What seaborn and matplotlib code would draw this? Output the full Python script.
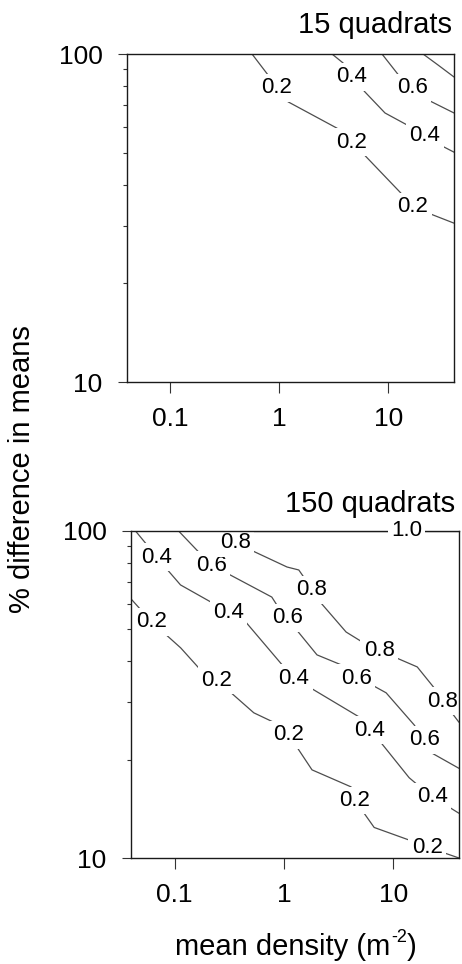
import matplotlib
matplotlib.use("Agg")
import matplotlib.pyplot as plt
import seaborn as sns
import pandas as pd
from matplotlib.ticker import FixedLocator, FixedFormatter, NullLocator, NullFormatter

# ---------------- data ----------------
x_ticks = [0.1, 1, 10]
x_tick_labels = ["0.1", "1", "10"]
y_ticks = [10, 100]
y_tick_labels = ["10", "100"]
y_minor = [20, 30, 40, 50, 60, 70, 80, 90]

panel_titles = ["15 quadrats", "150 quadrats"]
x_label_main = "mean density (m"
x_label_sup = "-2"
x_label_end = ")"
y_label = "% difference in means"

# 15 quadrats: contour lines (x, y vertices) and vertices that carry labels
t02_x = [0.561, 0.787, 0.951, 1.20, 3.38, 4.64, 12.8, 16.8, 25.7, 40]
t02_y = [100, 86.3, 78.8, 71.5, 59.4, 53.9, 37.9, 34.2, 32.3, 30.5]
t02_lab = [2, 5, 7]
t04_x = [3.04, 3.84, 4.64, 6.10, 9.31, 14.8, 21.7, 29.8, 40]
t04_y = [100, 93.9, 85.1, 76.6, 66.1, 60.8, 56.6, 52.8, 50.2]
t04_lab = [2, 6]
t06_x = [8.74, 12.8, 16.5, 23.1, 40]
t06_y = [100, 85.1, 78.8, 72.4, 66.1]
t06_lab = [2]
t08_x = [20.8, 28.5, 40]
t08_y = [100, 92.6, 85.1]
t08_lab = []

# 150 quadrats
b02_x = [0.04, 0.062, 0.114, 0.173, 0.243, 0.531, 0.809, 1.11, 1.81, 4.12, 4.48, 6.70, 15.6, 20.5, 40]
b02_y = [62, 52.7, 43.9, 37.6, 35.0, 27.8, 26.0, 23.8, 18.6, 16.5, 15.0, 12.4, 11.2, 10.8, 10.0]
b02_lab = [1, 4, 7, 10, 13]
b04_x = [0.044, 0.0542, 0.0684, 0.1135, 0.214, 0.313, 0.448, 0.938, 1.24, 4.88, 6.03, 7.76, 14.0, 19.2, 22.8, 40]
b04_y = [100, 91.9, 83.2, 68.4, 60.7, 56.5, 52.7, 39.4, 35.5, 27.0, 24.6, 22.5, 17.6, 16.1, 15.4, 13.7]
b04_lab = [2, 5, 8, 10, 14]
b06_x = [0.109, 0.166, 0.218, 0.776, 0.863, 1.09, 1.31, 2.01, 3.94, 4.58, 6.41, 8.62, 15.6, 19.2, 22.8, 40]
b06_y = [100, 86.3, 78.7, 62.8, 59.4, 54.2, 49.8, 41.8, 38.1, 35.5, 33.8, 32.0, 25.5, 23.0, 20.9, 18.8]
b06_lab = [2, 5, 9, 13]
b08_x = [0.282, 0.363, 1.07, 1.37, 1.52, 1.81, 2.18, 3.71, 5.42, 7.45, 10.2, 16.6, 25.4, 28.5, 40]
b08_y = [100, 91.9, 77.6, 76.0, 72.3, 66.1, 60.3, 49.1, 45.4, 43.0, 41.2, 38.4, 32.2, 30.2, 26.0]
b08_lab = [1, 5, 9, 13]
b10_x = [0.5, 13.2, 40]
b10_y = [100, 100, 100]
b10_lab = [1]

top_lines = [(0.2, t02_x, t02_y, t02_lab), (0.4, t04_x, t04_y, t04_lab),
             (0.6, t06_x, t06_y, t06_lab), (0.8, t08_x, t08_y, t08_lab)]
bot_lines = [(0.2, b02_x, b02_y, b02_lab), (0.4, b04_x, b04_y, b04_lab),
             (0.6, b06_x, b06_y, b06_lab), (0.8, b08_x, b08_y, b08_lab),
             (1.0, b10_x, b10_y, b10_lab)]

# ---------------- style ----------------
sns.set_style("ticks")
plt.rcParams["font.family"] = ["Liberation Sans", "DejaVu Sans"]
plt.rcParams["text.color"] = "black"
plt.rcParams["xtick.labelcolor"] = "black"
plt.rcParams["ytick.labelcolor"] = "black"

W, H = 462, 964
fig = plt.figure(figsize=(W / 100, H / 100), dpi=100)
ax_top = fig.add_axes([127 / W, 582 / H, 327 / W, 328 / H])
ax_bot = fig.add_axes([131 / W, 106 / H, 328 / W, 327 / H])

line_color = "0.3"


def draw(ax, lines):
    ax.set_xscale("log")
    ax.set_yscale("log")
    rows = []
    for i, (lev, xs, ys, lab) in enumerate(lines):
        for j, (xv, yv) in enumerate(zip(xs, ys)):
            rows.append({"line": i, "order": j, "x": xv, "y": yv})
    df = pd.DataFrame(rows)
    sns.lineplot(data=df, x="x", y="y", units="line", estimator=None, sort=False,
                 color=line_color, linewidth=0.9, ax=ax, legend=False)
    for lev, xs, ys, lab in lines:
        for k in lab:
            # labels sit above the contour lines; the one lying on the top edge
            # also sits above the frame
            z = 6 if ys[k] >= 100 else 2.3
            ax.text(xs[k], ys[k], f"{lev:.1f}", ha="center", va="center",
                    fontsize=16, color="black", zorder=z,
                    bbox=dict(boxstyle="square,pad=0.15", fc="white", ec="none"))
    ax.set_xlim(0.04, 40)
    ax.set_ylim(10, 100)
    ax.set_xlabel("")
    ax.set_ylabel("")
    ax.xaxis.set_major_locator(FixedLocator(x_ticks))
    ax.xaxis.set_major_formatter(FixedFormatter(x_tick_labels))
    ax.xaxis.set_minor_locator(NullLocator())
    ax.yaxis.set_major_locator(FixedLocator(y_ticks))
    ax.yaxis.set_major_formatter(FixedFormatter(y_tick_labels))
    ax.yaxis.set_minor_locator(FixedLocator(y_minor))
    ax.yaxis.set_minor_formatter(NullFormatter())
    ax.tick_params(axis="x", which="major", direction="out", length=8, width=0.8,
                   pad=10, labelsize=19, color="0.2", labelcolor="black")
    ax.tick_params(axis="y", which="major", direction="out", length=6.5, width=0.8,
                   pad=11, labelsize=19, color="0.2", labelcolor="black")
    ax.tick_params(axis="y", which="minor", direction="out", length=3, width=0.8, color="0.2")
    for s in ax.spines.values():
        s.set_visible(True)
        s.set_linewidth(1.0)
        s.set_color("0.1")


draw(ax_top, top_lines)
draw(ax_bot, bot_lines)

fig.text(452 / W, 1 - 33 / H, panel_titles[0], ha="right", va="baseline", fontsize=21)
fig.text(455 / W, 1 - 512 / H, panel_titles[1], ha="right", va="baseline", fontsize=21)
fig.text(22 / W, 1 - 469 / H, y_label, rotation=90, ha="center", va="center", fontsize=21)

# x label composed of main text, raised "-2" and closing bracket
fig.canvas.draw()
renderer = fig.canvas.get_renderer()
x0 = 175 / W
t1 = fig.text(x0, 9 / H, x_label_main, ha="left", va="baseline", fontsize=21)
e1 = t1.get_window_extent(renderer)
t2 = fig.text(e1.x1 / W + 0.5 / W, 9 / H + 13 / H, x_label_sup, ha="left", va="baseline", fontsize=13)
e2 = t2.get_window_extent(renderer)
t3 = fig.text(e2.x1 / W + 0.5 / W, 9 / H, x_label_end, ha="left", va="baseline", fontsize=21)

fig.savefig("out.png", dpi=100)
